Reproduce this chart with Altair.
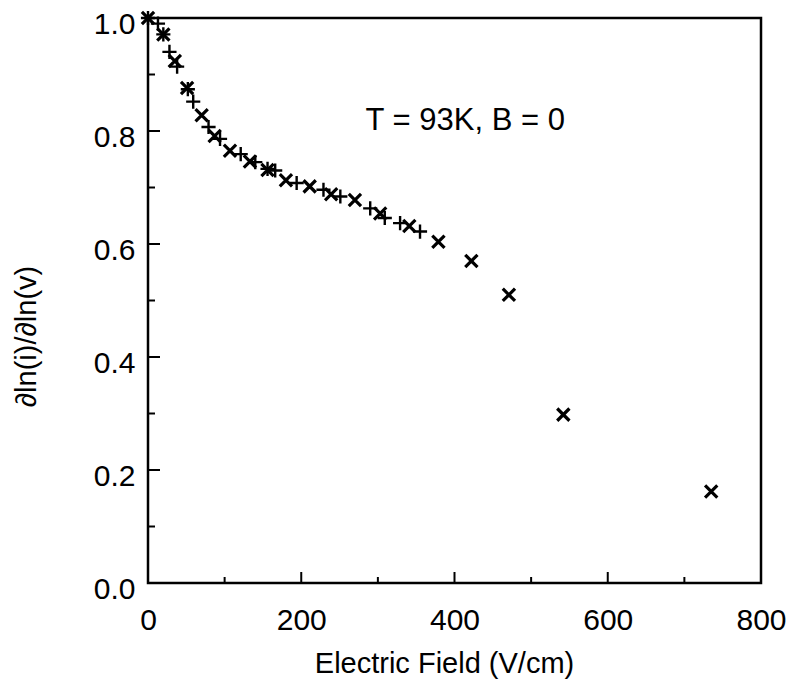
import altair as alt
import pandas as pd

# × series (Electric field V/cm, dln(i)/dln(v))
cross_E = [0, 20, 35, 51, 70, 87, 107, 133, 156, 180, 211, 239, 270, 303, 341,
           379, 422, 471, 542, 735]
cross_D = [1.000, 0.971, 0.924, 0.876, 0.828, 0.791, 0.765, 0.746, 0.731, 0.713,
           0.702, 0.688, 0.678, 0.654, 0.632, 0.604, 0.570, 0.510, 0.298, 0.162]

# + series
plus_E = [0, 13, 20, 28, 38, 52, 59, 79, 94, 121, 140, 156, 166, 194, 229, 251,
          290, 309, 329, 355]
plus_D = [1.000, 0.990, 0.971, 0.940, 0.914, 0.874, 0.852, 0.807, 0.786, 0.759,
          0.745, 0.733, 0.730, 0.708, 0.696, 0.684, 0.663, 0.646, 0.637, 0.622]

x_major = [0, 200, 400, 600, 800]
x_minor = [100, 300, 500, 700]
y_major = [0.0, 0.2, 0.4, 0.6, 0.8, 1.0]
y_minor = [0.1, 0.3, 0.5, 0.7, 0.9]

annot_text = "T = 93K, B = 0"
ANNOT_E, ANNOT_D = 414, 0.801

W, H = 613, 565
FONT = "Liberation Sans"

xscale = alt.Scale(domain=[0, 800], nice=False, zero=False)
yscale = alt.Scale(domain=[0, 1], nice=False)

xaxis = alt.Axis(values=x_major, format="d", ticks=False, tickSize=0, domain=False,
                 grid=False, labelFont=FONT, labelFontSize=30, labelPadding=22,
                 labelFlush=False, labelColor="black",
                 title="Electric Field (V/cm)", titleFont=FONT, titleFontSize=29,
                 titleFontWeight="normal", titleColor="black",
                 titleX=296, titleY=89, titleBaseline="alphabetic")
yaxis = alt.Axis(values=y_major, format=".1f", ticks=False, tickSize=0, domain=False,
                 grid=False, labelFont=FONT, labelFontSize=30, labelPadding=13,
                 labelFlush=False, labelColor="black", labelOffset=6,
                 title="∂ln(i)/∂ln(v)", titleFont=FONT, titleFontSize=29,
                 titleFontWeight="normal", titleColor="black",
                 titleX=-113, titleY=318, titleAngle=270,
                 titleBaseline="alphabetic")

X_PATH = "M-1,-1L1,1M-1,1L1,-1"
P_PATH = "M-1,0L1,0M0,-1L0,1"

df_cross = pd.DataFrame({"E": cross_E, "D": cross_D})
df_plus = pd.DataFrame({"E": plus_E, "D": plus_D})

X = alt.X("E:Q", scale=xscale, axis=xaxis)
Y = alt.Y("D:Q", scale=yscale, axis=yaxis)

cross = alt.Chart(df_cross).mark_point(
    shape=X_PATH, size=150, strokeWidth=3.2, color="black", filled=False, opacity=1
).encode(x=X, y=Y)

plus = alt.Chart(df_plus).mark_point(
    shape=P_PATH, size=200, strokeWidth=2.4, color="black", filled=False, opacity=1
).encode(x=X, y=Y)

xt_major = alt.Chart(pd.DataFrame({"E": x_major})).mark_rule(
    color="black", strokeWidth=2).encode(x=X, y=alt.value(H), y2=alt.value(H - 11))
xt_minor = alt.Chart(pd.DataFrame({"E": x_minor})).mark_rule(
    color="black", strokeWidth=2).encode(x=X, y=alt.value(H), y2=alt.value(H - 6))
yt_major = alt.Chart(pd.DataFrame({"D": y_major})).mark_rule(
    color="black", strokeWidth=2).encode(y=Y, x=alt.value(0), x2=alt.value(12))
yt_minor = alt.Chart(pd.DataFrame({"D": y_minor})).mark_rule(
    color="black", strokeWidth=2).encode(y=Y, x=alt.value(0), x2=alt.value(7))

annot = alt.Chart(pd.DataFrame({"E": [ANNOT_E], "D": [ANNOT_D], "t": [annot_text]})).mark_text(
    font=FONT, fontSize=31, align="center", baseline="alphabetic", color="black"
).encode(x=X, y=Y, text="t:N")

chart = alt.layer(xt_major, xt_minor, yt_major, yt_minor, plus, cross, annot).properties(
    width=W, height=H,
    autosize=alt.AutoSizeParams(type="none"),
    padding={"left": 148, "top": 18, "right": 31, "bottom": 101},
    background="white",
).configure_view(stroke="black", strokeWidth=2.5)

chart.save("out.html", embed_options={"renderer": "svg", "actions": False})
